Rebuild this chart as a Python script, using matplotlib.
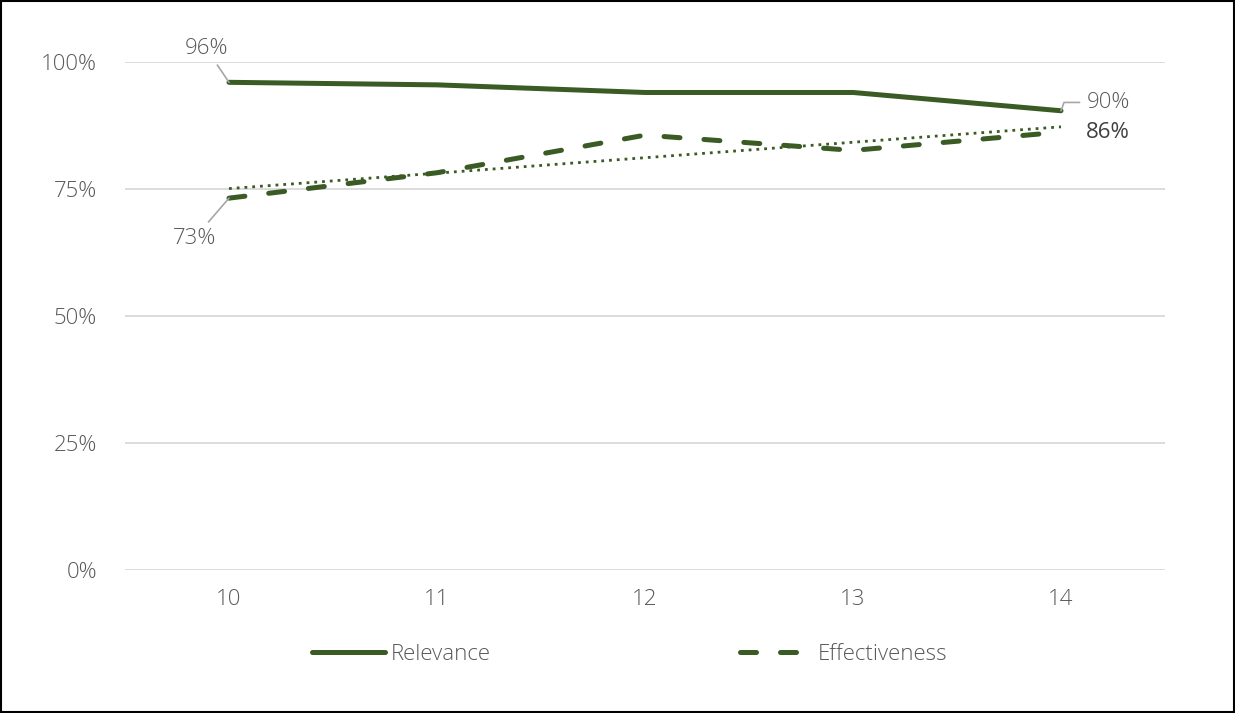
import matplotlib.pyplot as plt
import numpy as np

plt.rcParams['font.family'] = ['Open Sans', 'DejaVu Sans']
plt.rcParams['font.weight'] = 'light'

# data
years = [10, 11, 12, 13, 14]
relevance = [96.0, 95.5, 94.0, 94.0, 90.4]
effectiveness = [73.2, 78.2, 85.6, 82.6, 86.2]
y_ticks = [0, 25, 50, 75, 100]
y_tick_labels = ['0%', '25%', '50%', '75%', '100%']

green = '#3a5b24'
grey_txt = '#595959'
leader = '#a6a6a6'

fig = plt.figure(figsize=(12.35, 7.13), dpi=100)
ax = fig.add_axes([125 / 1235, 1 - 570 / 713, 1040 / 1235, 508 / 713])

x = np.array(years)
ax.plot(x, relevance, color=green, lw=3.6, solid_capstyle='round',
        solid_joinstyle='round', label='Relevance', zorder=3)
ax.plot(x, effectiveness, color=green, lw=3.6, ls=(0, (3.2, 4.8)),
        dash_capstyle='round', label='Effectiveness', zorder=3)

# linear trend of effectiveness
k, b = np.polyfit(x, effectiveness, 1)
ax.plot(x, k * x + b, color=green, lw=2.0, ls=(0, (1, 1.8)),
        label='_nolegend_', zorder=2)

ax.set_xlim(9.5, 14.5)
ax.set_ylim(0, 100)
ax.set_xticks(years)
ax.set_xticklabels([str(v) for v in years])
ax.set_yticks(y_ticks)
ax.set_yticklabels(y_tick_labels)
ax.tick_params(length=0, labelsize=16, colors=grey_txt, pad=14)
ax.tick_params(axis='y', pad=20)
ax.yaxis.grid(True, color='#d9d9d9', lw=1.3)
ax.set_axisbelow(True)
for s in ax.spines.values():
    s.set_visible(False)

# data labels
lab = dict(fontsize=16, ha='center', va='center', textcoords='offset points')
ax.annotate('96%', (years[0], relevance[0]), xytext=(-16.5, 24.5), color=grey_txt,
            arrowprops=dict(arrowstyle='-', color=leader, lw=1.2, shrinkA=3, shrinkB=0), **lab)
ax.annotate('73%', (years[0], effectiveness[0]), xytext=(-25, -29), color=grey_txt,
            arrowprops=dict(arrowstyle='-', color=leader, lw=1.2, shrinkA=3, shrinkB=0), **lab)
ax.annotate('90%', (years[-1], relevance[-1]), xytext=(34, 6), color=grey_txt,
            arrowprops=dict(arrowstyle='-', color=leader, lw=1.2, shrinkA=3, shrinkB=0,
                            connectionstyle='angle,angleA=0,angleB=70,rad=0'), **lab)
ax.annotate('86%', (years[-1], effectiveness[-1]), xytext=(34, 0), color='#404040',
            fontweight='normal', **lab)

fig.legend(loc='center', bbox_to_anchor=(630 / 1235, 1 - 654 / 713), ncol=2,
           frameon=False, fontsize=16, handlelength=3.25, handletextpad=0.28,
           columnspacing=11.2, borderpad=0, labelcolor=grey_txt)

# outer border
fig.patches.append(plt.Rectangle((0.001, 0.001), 0.998, 0.997, transform=fig.transFigure,
                                 fill=False, edgecolor='black', lw=1.5))

fig.savefig('out.png', dpi=100)
